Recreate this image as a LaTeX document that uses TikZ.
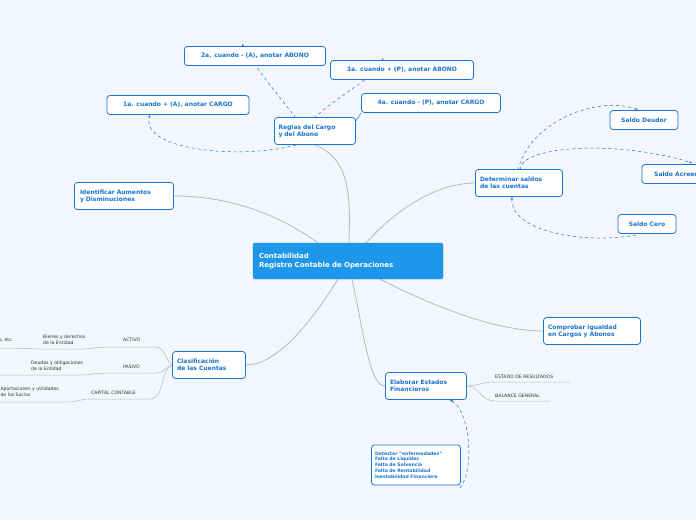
\documentclass[tikz,border=0pt]{standalone}
\usepackage{fontspec}
\setmainfont{DejaVu Sans}
\usetikzlibrary{arrows.meta}
\definecolor{bg}{HTML}{F3F6FD}
\definecolor{bl}{HTML}{1A73D0}
\definecolor{cen}{HTML}{1E96EA}
\definecolor{gl}{HTML}{B8B8BE}
\definecolor{tx}{HTML}{333333}
\pgfdeclarelayer{bottom}
\pgfdeclarelayer{lines}
\pgfsetlayers{bottom,lines,main}
\begin{document}
\begin{tikzpicture}[x=1pt,y=-1pt,
  topic/.style={draw=bl,fill=white,rounded corners=3pt,line width=0.8pt,text=bl,font=\fontsize{6}{7}\selectfont\bfseries,align=left,inner sep=0pt},
  leaf/.style={text=tx,font=\fontsize{4.6}{5.6}\selectfont,align=left,inner sep=0pt,anchor=west},
  con/.style={draw=gl,line width=0.8pt},
  dsh/.style={draw=bl,dashed,line width=0.5pt},
  dl/.style={dsh,-{Stealth[length=3pt]}}]
\useasboundingbox (0,0) rectangle (696,520);
\clip (0,0) rectangle (696,520);
\begin{pgfonlayer}{bottom}
\fill[bg] (0,0) rectangle (696,520);
\end{pgfonlayer}
% topics
\node[topic,minimum width=81pt,minimum height=27pt,text width=73pt] (reg) at (315,131) {Reglas del Cargo\\y del Abono};
\node[topic,minimum width=141pt,minimum height=19pt,align=center] (a2) at (255,56) {2a. cuando - (A), anotar ABONO};
\node[topic,minimum width=143pt,minimum height=19pt,align=center] (a3) at (402,70) {3a. cuando + (P), anotar ABONO};
\node[topic,minimum width=142pt,minimum height=19pt,align=center] (a1) at (178,105) {1a. cuando + (A), anotar CARGO};
\node[topic,minimum width=139pt,minimum height=19pt,align=center] (a4) at (431,103) {4a. cuando - (P), anotar CARGO};
\node[topic,minimum width=99pt,minimum height=27pt,text width=88pt] (ide) at (124,196) {Identificar Aumentos\\y Disminuciones};
\node[topic,minimum width=87pt,minimum height=27pt,text width=78pt] (det) at (519,183) {Determinar saldos\\de las cuentas};
\node[topic,minimum width=68pt,minimum height=19pt,align=center] (sd) at (644,120) {Saldo Deudor};
\node[topic,minimum width=76pt,minimum height=19pt,align=center] (sa) at (680,174) {Saldo Acreedor};
\node[topic,minimum width=58pt,minimum height=19pt,align=center] (sc) at (647,224) {Saldo Cero};
\node[topic,minimum width=97pt,minimum height=27pt,text width=88pt] (com) at (592,331) {Comprobar igualdad\\en Cargos y Abonos};
\node[topic,minimum width=73pt,minimum height=27pt,text width=64pt] (cla) at (209,365) {Clasificación\\de las Cuentas};
\node[topic,minimum width=81pt,minimum height=27pt,text width=72pt] (ela) at (426,386) {Elaborar Estados\\Financieros};
\node[topic,minimum width=89pt,minimum height=40pt,text width=82pt,font=\fontsize{4.6}{5.8}\selectfont\bfseries] (dtc) at (416,465) {Detectar "enfermedades"\\Falta de Liquidez\\Falta de Solvencia\\Falta de Rentabilidad\\Inestabilidad Financiera};
\node[draw=cen,fill=cen,rounded corners=2pt,minimum width=190pt,minimum height=36pt,text width=178pt,text=white,align=left,font=\fontsize{7}{8.5}\selectfont\bfseries,inner sep=0pt] (c) at (348,261) {Contabilidad\\Registro Contable de Operaciones};
% leaves
\node[leaf] (act) at (123,340) {ACTIVO};
\node[leaf] (bie) at (43,340) {Bienes y derechos\\de la Entidad};
\node[leaf,anchor=east] (etc) at (12,340) {Caja, Bancos, etc};
\node[leaf] (pas) at (123,367) {PASIVO};
\node[leaf] (deu) at (31,366) {Deudas y obligaciones\\de la Entidad};
\node[leaf] (cap) at (91,393) {CAPITAL CONTABLE};
\node[leaf,anchor=east] (apo) at (59,392) {Aportaciones y utilidades\\de los Socios};
\node[leaf] (er) at (495,377) {ESTADO DE RESULTADOS};
\node[leaf] (bg) at (495,396) {BALANCE GENERAL};
\coordinate (t2) at (242,44);
\coordinate (t3) at (383,58);
\coordinate (tsa) at (692,163);
\begin{pgfonlayer}{lines}
\draw[con] (349,243) .. controls (350,200) and (352,160) .. (reg.south);
\draw[con] (ide.east) .. controls (250,196) and (300,230) .. (318,243);
\draw[con] (366,243) .. controls (400,205) and (440,183) .. (det.west);
\draw[con] (380,279) .. controls (440,310) and (500,331) .. (com.west);
\draw[con] (338,279) .. controls (300,340) and (270,365) .. (cla.east);
\draw[con] (352,279) .. controls (365,340) and (370,386) .. (ela.west);
\draw[draw=bl,line width=0.5pt] (reg.east) ++(0,-10) -- (a4.south west);
\draw[dl] (296,118) .. controls (270,85) and (250,60) .. (t2);
\draw[dl] (314,118) .. controls (345,90) and (380,75) .. (t3);
\draw[dl] (296,145) .. controls (240,160) and (140,150) .. (150,115);
\draw[dl] (518,170) .. controls (530,120) and (600,95) .. (638,110);
\draw[dl] (520,170) .. controls (520,145) and (620,140) .. (tsa);
\draw[dl] (636,235) .. controls (580,245) and (510,230) .. (512,197);
\draw[dl] (460,488) .. controls (475,470) and (470,410) .. (450,400);
\draw[con,line width=0.5pt] (cla.west) .. controls (165,360) and (165,347) .. (155,347) -- (110,347) .. controls (100,347) and (95,348) .. (85,349) -- (40,349) .. controls (30,349) and (25,348) .. (0,348);
\draw[con,line width=0.5pt] (cla.west) .. controls (165,367) and (165,373) .. (155,373) -- (110,373) .. controls (95,373) and (90,375) .. (80,375) -- (0,375);
\draw[con,line width=0.5pt] (cla.west) .. controls (160,370) and (165,399) .. (150,399) -- (90,399) .. controls (80,399) and (78,402) .. (68,402) -- (0,402);
\draw[con,line width=0.5pt] (ela.east) .. controls (480,386) and (480,382) .. (495,382) -- (570,382);
\draw[con,line width=0.5pt] (ela.east) .. controls (480,386) and (480,401) .. (495,401) -- (550,401);
\end{pgfonlayer}
\end{tikzpicture}
\end{document}
